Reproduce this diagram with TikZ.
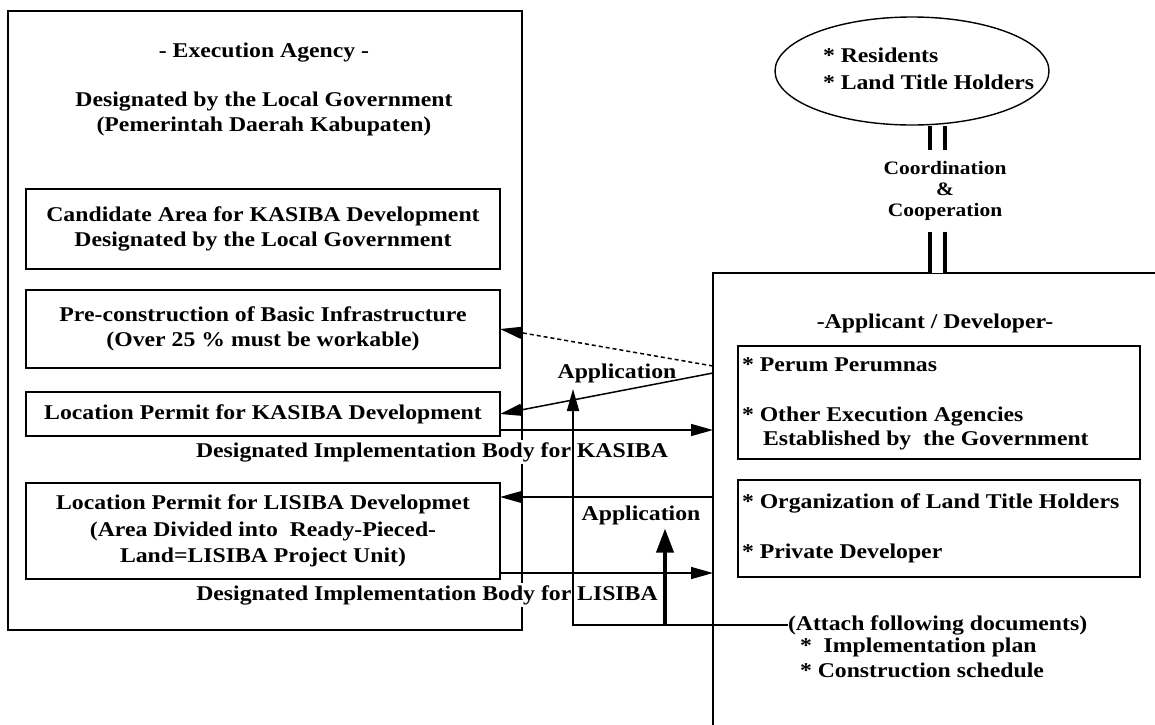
\documentclass[tikz,border=0pt]{standalone}
\usepackage{fontspec}
\setmainfont{Liberation Serif}[FakeStretch=1.13]
\usetikzlibrary{arrows.meta,shapes.geometric}

\tikzset{
  txt/.style={font=\fontsize{21}{25}\selectfont\bfseries, inner sep=0pt, outer sep=0pt},
  frame/.style={draw, line width=1.6pt, inner sep=0pt, outer sep=0pt},
  stepbox/.style={frame, align=center, minimum width=474pt,
                  font=\fontsize{21}{25}\selectfont\bfseries},
  arr/.style={line width=1.5pt, -{Triangle[length=22pt,width=12pt]}},
  bigarr/.style={line width=3.8pt, -{Triangle[length=24pt,width=17pt]}},
  pair/.style={line width=3.3pt, double, double distance=11.5pt},
}

\begin{document}
\begin{tikzpicture}[x=1pt,y=-1pt]
\useasboundingbox (0,0) rectangle (1155,724);

% ---- execution agency side ----
\node[frame, minimum width=514pt, minimum height=619pt, anchor=north west] (exec) at (8,11) {};
\node[txt] (execT) at (264,53) {- Execution Agency -};
\node[txt, align=center] (govT) at (264,114) {Designated by the Local Government\\(Pemerintah Daerah Kabupaten)};

\node[stepbox, minimum height=80pt] (cand) at (263,229)
  {Candidate Area for KASIBA Development\\Designated by the Local Government};
\node[stepbox, minimum height=78pt] (pre) at (263,329)
  {Pre-construction of Basic Infrastructure\\(Over 25 \% must be workable)};
\node[stepbox, minimum height=44pt] (kperm) at (263,414)
  {Location Permit for KASIBA Development};
\node[stepbox, minimum height=96pt, font=\fontsize{21}{26.5}\selectfont\bfseries] (lperm) at (263,531)
  {Location Permit for LISIBA Developmet\\(Area Divided into\ \ Ready-Pieced-\\Land=LISIBA Project Unit)};

\node[txt, fill=white, inner ysep=2pt] (kdes) at (432,452) {Designated Implementation Body for KASIBA};
\node[txt, fill=white, inner ysep=2pt] (ldes) at (427,595) {Designated Implementation Body for LISIBA};

% ---- residents and coordination ----
\node[draw, ellipse, line width=1.4pt, minimum width=274pt, minimum height=108pt, inner sep=0pt] (res) at (912,71) {};
\node[txt, anchor=west] (resA) at (823,55) {* Residents};
\node[txt, anchor=west] (resB) at (823,82) {* Land Title Holders};
\node[txt, align=center, font=\fontsize{19}{21}\selectfont\bfseries, inner ysep=11pt] (coord) at (945,191)
  {Coordination\\\&\\Cooperation};

% ---- applicant / developer side ----
\node[frame, minimum width=480pt, minimum height=480pt, anchor=north west] (appl) at (713,273) {};
\node[txt] (applT) at (935,323) {-Applicant / Developer-};

\node[frame, line width=1.4pt, minimum width=402pt, minimum height=113pt, anchor=north west] (grpA) at (738,346) {};
\node[txt, anchor=west] (perum) at (742,365) {* Perum Perumnas};
\node[txt, anchor=west] (other) at (742,417) {* Other Execution Agencies};
\node[txt, anchor=west] (estab) at (763,440) {Established by\ \ the Government};

\node[frame, line width=1.4pt, minimum width=402pt, minimum height=97pt, anchor=north west] (grpB) at (738,480) {};
\node[txt, anchor=west] (org) at (742,503) {* Organization of Land Title Holders};
\node[txt, anchor=west] (priv) at (742,553) {* Private Developer};

\node[txt, anchor=west] (attach) at (788,625) {(Attach following documents)};
\node[txt, anchor=west] (docA) at (800,647) {*\ \ Implementation plan};
\node[txt, anchor=west] (docB) at (800,670) {* Construction schedule};

\node[txt] (appA) at (617,373) {Application};
\node[txt, outer ysep=4pt] (appB) at (641,515) {Application};

% ---- connectors ----
\draw[pair] (937.5,0 |- res.south) -- (937.5,0 |- coord.north);
\draw[pair] (937.5,0 |- coord.south) -- (937.5,0 |- appl.north);

\draw[arr, dash pattern=on 4pt off 3pt] (appl.west |- 0,366) -- (pre.east);
\draw[arr] (appl.west |- 0,373) -- (kperm.east);
\draw[arr] (kperm.east |- 0,430) -- (appl.west |- 0,430);
\draw[arr] (appl.west |- 0,497) -- (lperm.east |- 0,497);
\draw[arr] (lperm.east |- 0,573) -- (appl.west |- 0,573);

\coordinate (bend) at (573,625);
\coordinate (fork) at (665,625);
\coordinate (tipA) at (573,389);
\draw[line width=1.5pt] (attach.west) -- (fork);
\draw[arr, line width=1.8pt] (fork) -- (bend) -- (tipA);
\draw[bigarr] (fork) -- (fork |- appB.south);
\end{tikzpicture}
\end{document}
